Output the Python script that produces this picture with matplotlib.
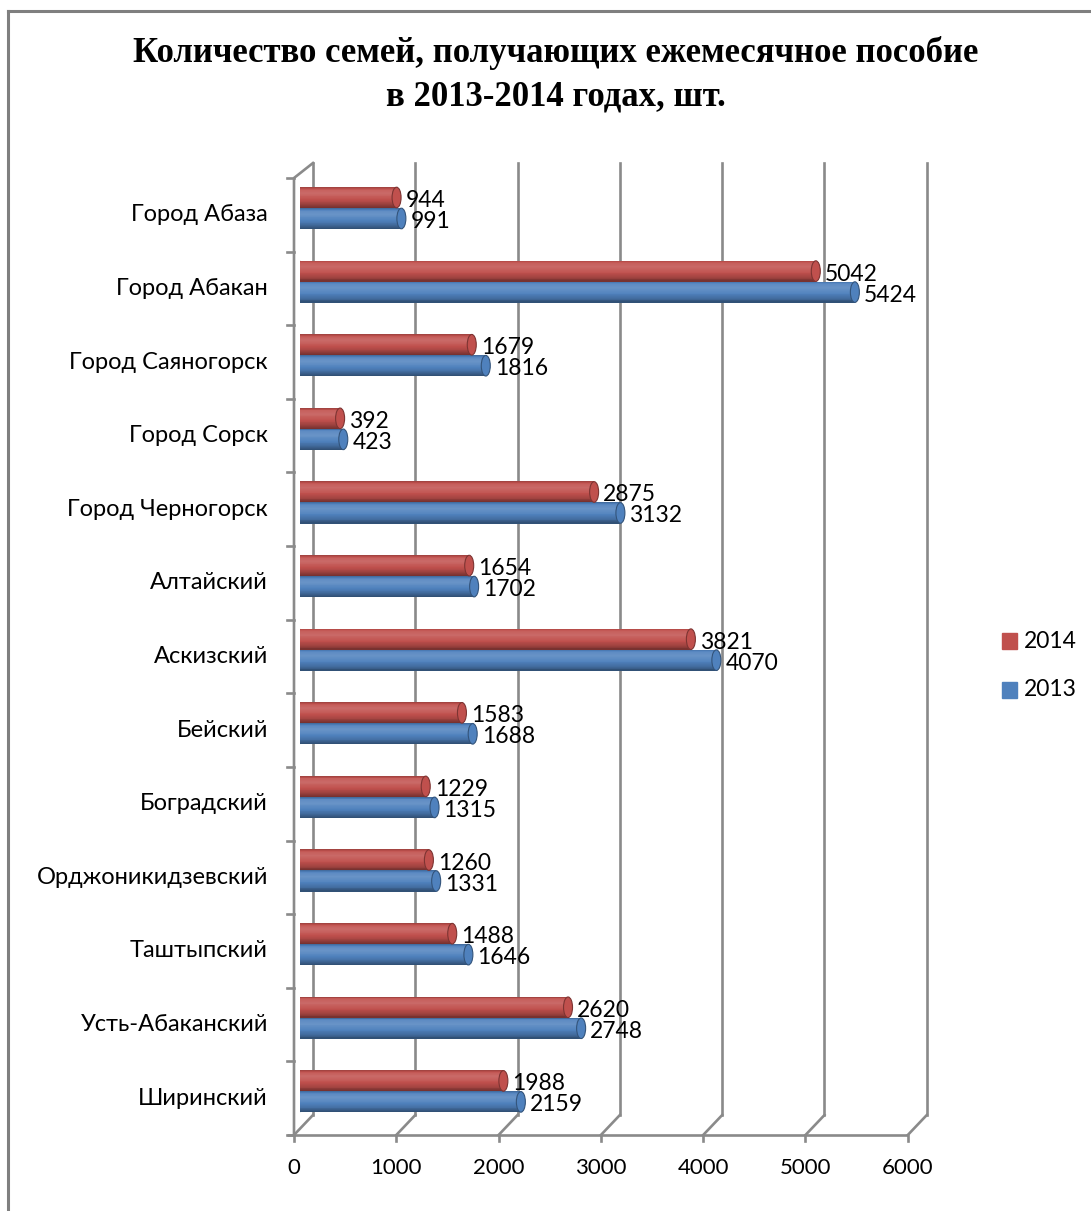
#!/usr/bin/env python3

import sys

import matplotlib
matplotlib.use("Agg")
import matplotlib.pyplot as plt
from matplotlib.lines import Line2D
from matplotlib.patches import Ellipse
from matplotlib.colors import to_rgb
import numpy as np

plt.rcParams["font.family"] = ["Lato", "DejaVu Sans"]

regions = [
    "Город Абаза",
    "Город Абакан",
    "Город Саяногорск",
    "Город Сорск",
    "Город Черногорск",
    "Алтайский",
    "Аскизский",
    "Бейский",
    "Боградский",
    "Орджоникидзевский",
    "Таштыпский",
    "Усть-Абаканский",
    "Ширинский",
]
values_2014 = [944, 5042, 1679, 392, 2875, 1654, 3821, 1583, 1229, 1260, 1488, 2620, 1988]
values_2013 = [991, 5424, 1816, 423, 3132, 1702, 4070, 1688, 1315, 1331, 1646, 2748, 2159]
xticks = [0, 1000, 2000, 3000, 4000, 5000, 6000]

title = "Количество семей, получающих ежемесячное пособие\nв 2013-2014 годах, шт."

RED = "#c0504d"
BLUE = "#4f81bd"
GRID = "#8a8a8a"

W, H = 1091, 1211
PX_X = 613.8 / 6000  # pixels per data unit along x
PX_Y = 957 / 13      # pixels per category


def dx(px):
    return px / PX_X


def dy(px):
    return px / PX_Y


def shade(color, f):
    c = np.array(to_rgb(color))
    if f >= 0:
        return tuple(c + (1 - c) * f)
    return tuple(c * (1 + f))


def cylinder(ax, y, value, height, color):
    # fake the cylinder: many thin strips, light near the top, dark at the bottom
    knots = [0.0, 0.12, 0.3, 0.55, 0.8, 1.0]
    fs = [-0.2, 0.08, 0.15, 0.03, -0.15, -0.4]
    n = 24
    h = height / n
    for k in range(n):
        t = (k + 0.5) / n
        f = np.interp(t, knots, fs)
        yy = y - height / 2 + h * (k + 0.5)
        ax.barh(yy, value, height=h * 1.6, left=0, color=shade(color, f),
                linewidth=0, zorder=3)
    ax.add_patch(Ellipse((0, y), dx(8), height, facecolor=shade(color, -0.1),
                         edgecolor="none", zorder=2.9))
    ax.add_patch(Ellipse((value, y), dx(9), height, facecolor=shade(color, 0.0),
                         edgecolor=shade(color, -0.35), linewidth=0.8, zorder=3.1))


def main():
    fig = plt.figure(figsize=(W / 100, H / 100), dpi=100)
    ax = fig.add_axes([300 / W, (H - 1135) / H, 613.8 / W, 957 / H])
    ax.set_xlim(0, 6000)
    ax.set_ylim(12.5, -0.5)
    ax.axis("off")

    front = dx(-6)
    back = dx(13)
    y_floor = 12.5
    y_floor_back = 12.5 - dy(20)
    y_top_back = -0.5 - dy(15)
    lw = 1.9

    # floor and back wall
    ax.plot([front - dx(7), 6000 + front], [y_floor, y_floor], color=GRID, lw=lw,
            clip_on=False, solid_capstyle="butt")
    for v in xticks:
        ax.plot([v + front, v + back], [y_floor, y_floor_back], color=GRID, lw=lw,
                clip_on=False)
        ax.plot([v + back, v + back], [y_floor_back, y_top_back], color=GRID, lw=lw,
                clip_on=False)
        ax.plot([v + front, v + front], [y_floor, y_floor + dy(6)], color=GRID, lw=lw,
                clip_on=False)
        ax.text(v + front, y_floor + dy(33), str(v), ha="center", va="center",
                fontsize=16)

    # left wall
    ax.plot([front, front, back], [y_floor, -0.5, y_top_back], color=GRID, lw=lw,
            clip_on=False)
    for b in np.arange(-0.5, 13, 1.0):
        ax.plot([front - dx(7), front], [b, b], color=GRID, lw=lw, clip_on=False)

    for i, name in enumerate(regions):
        ax.text(front - dx(26), i, name, ha="right", va="center", fontsize=17)

    bh = 0.28
    for i in range(len(regions)):
        yr = i - 0.235
        yb = i + 0.05
        cylinder(ax, yr, values_2014[i], bh, RED)
        cylinder(ax, yb, values_2013[i], bh, BLUE)
        ax.text(values_2014[i] + dx(9), yr + dy(3), str(values_2014[i]),
                ha="left", va="center", fontsize=16.5, zorder=5)
        ax.text(values_2013[i] + dx(9), yb + dy(3), str(values_2013[i]),
                ha="left", va="center", fontsize=16.5, zorder=5)

    # legend
    for yc, col, lab in [(641, RED, "2014"), (690, BLUE, "2013")]:
        fig.patches.append(plt.Rectangle((1002 / W, (H - yc - 8) / H), 15 / W, 16 / H,
                                         transform=fig.transFigure, color=col))
        fig.text(1024 / W, (H - yc) / H, lab, ha="left", va="center", fontsize=16.5)

    fig.text(556 / W, (H - 75) / H, title, ha="center", va="center",
             fontsize=25, fontweight="bold", family="Liberation Serif",
             linespacing=1.4)

    # outer frame
    fig.add_artist(Line2D([7.5 / W, 7.5 / W], [0, (H - 10.5) / H], color="#7f7f7f",
                          lw=2.2, transform=fig.transFigure))
    fig.add_artist(Line2D([7.5 / W, 1], [(H - 10.5) / H, (H - 10.5) / H],
                          color="#7f7f7f", lw=2.2, transform=fig.transFigure))

    fig.savefig("out.png", dpi=100)
    plt.close(fig)


if __name__ == "__main__":
    sys.exit(main())
